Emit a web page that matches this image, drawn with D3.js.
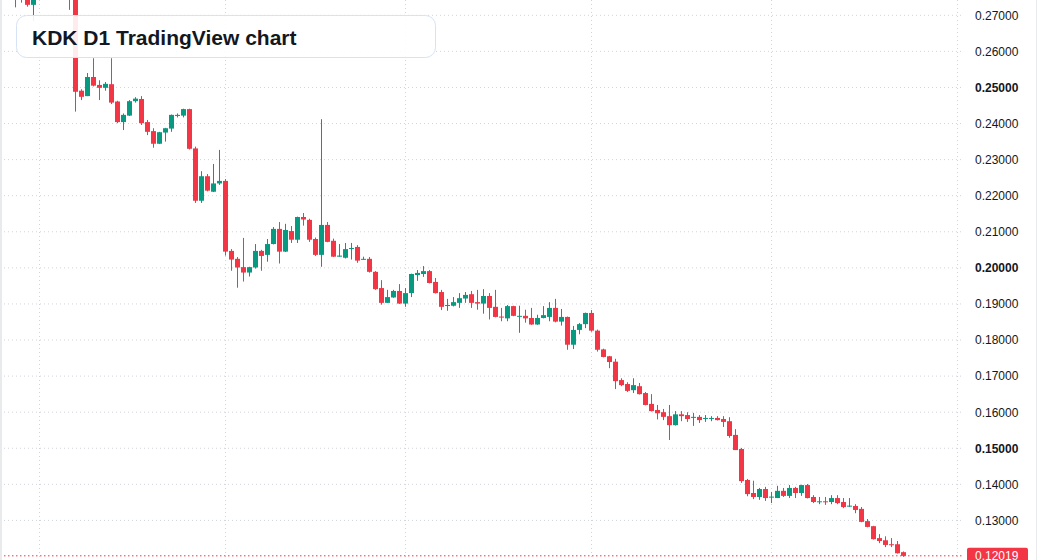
<html>
<head>
  <script src="https://d3js.org/d3.v7.min.js"></script>
  <style>
    body { margin: 0; background: #ffffff; }
    .axis text {
      font-family: "Liberation Sans", Arial, sans-serif;
      font-size: 12px;
      fill: #131722;
    }
    .axis .domain { stroke: none; }
    .gridline { stroke: #d1d4dc; stroke-dasharray: 1,3; }
    .title {
      font-family: "Liberation Sans", Arial, sans-serif;
      font-size: 21px;
      font-weight: bold;
      fill: #131722;
    }
  </style>
</head>
<body>
<svg id="chart" width="1037" height="560"></svg>
<script>
  // daily candles, oldest first (first few sit above the visible range)
  const opens = [0.2790,0.2775,0.2752,0.2729,0.2760,0.2815,0.2850,0.2820,0.2835,0.2790,
    0.2765,0.2491,0.2476,0.2529,0.2507,0.2499,0.2509,0.2461,0.2404,0.2422,
    0.2462,0.2468,0.2404,0.2379,0.2344,0.2375,0.2386,0.2421,0.2422,0.2440,
    0.2331,0.2186,0.2254,0.2211,0.2234,0.2241,0.2047,0.2025,0.2002,0.1987,
    0.2001,0.2047,0.2036,0.2066,0.2108,0.2045,0.2102,0.2078,0.2141,0.2133,
    0.2080,0.2036,0.2119,0.2075,0.2031,0.2028,0.2053,0.2058,0.2023,0.2025,
    0.1989,0.1944,0.1903,0.1918,0.1936,0.1901,0.1930,0.1980,0.1983,0.1991,
    0.1961,0.1933,0.1896,0.1895,0.1903,0.1915,0.1927,0.1905,0.1901,0.1922,
    0.1892,0.1865,0.1860,0.1894,0.1866,0.1867,0.1861,0.1843,0.1861,0.1864,
    0.1889,0.1851,0.1864,0.1787,0.1828,0.1844,0.1875,0.1826,0.1774,0.1755,
    0.1740,0.1689,0.1678,0.1661,0.1672,0.1653,0.1623,0.1606,0.1600,0.1589,
    0.1564,0.1594,0.1592,0.1585,0.1587,0.1583,0.1583,0.1584,0.1581,0.1575,
    0.1537,0.1498,0.1412,0.1376,0.1365,0.1387,0.1364,0.1362,0.1382,0.1368,
    0.1390,0.1376,0.1398,0.1365,0.1352,0.1353,0.1351,0.1362,0.1351,0.1340,
    0.1340,0.1332,0.1298,0.1284,0.1251,0.1245,0.1234,0.1234,0.1212];
  const highs = [0.2800,0.2790,0.2765,0.2775,0.2830,0.2870,0.2880,0.2860,0.2850,0.2810,
    0.2775,0.2495,0.2540,0.2581,0.2520,0.2515,0.2581,0.2463,0.2428,0.2465,
    0.2473,0.2476,0.2410,0.2387,0.2377,0.2388,0.2425,0.2428,0.2441,0.2441,
    0.2336,0.2268,0.2260,0.2288,0.2327,0.2246,0.2052,0.2030,0.2083,0.2003,
    0.2066,0.2050,0.2080,0.2113,0.2127,0.2122,0.2116,0.2142,0.2152,0.2136,
    0.2084,0.2412,0.2127,0.2081,0.2066,0.2069,0.2069,0.2063,0.2031,0.2030,
    0.1991,0.1966,0.1939,0.1939,0.1955,0.1944,0.1984,0.1994,0.2005,0.1994,
    0.1972,0.1939,0.1914,0.1919,0.1930,0.1933,0.1936,0.1939,0.1941,0.1930,
    0.1939,0.1889,0.1897,0.1895,0.1895,0.1884,0.1889,0.1870,0.1894,0.1905,
    0.1914,0.1886,0.1865,0.1839,0.1847,0.1876,0.1883,0.1829,0.1776,0.1756,
    0.1748,0.1694,0.1683,0.1694,0.1681,0.1656,0.1650,0.1620,0.1609,0.1620,
    0.1603,0.1603,0.1600,0.1598,0.1592,0.1592,0.1589,0.1589,0.1589,0.1586,
    0.1553,0.1501,0.1415,0.1410,0.1390,0.1393,0.1379,0.1396,0.1390,0.1398,
    0.1393,0.1399,0.1401,0.1370,0.1365,0.1365,0.1370,0.1370,0.1362,0.1362,
    0.1345,0.1337,0.1304,0.1285,0.1262,0.1256,0.1251,0.1243,0.1214];
  const lows = [0.2722,0.2735,0.2724,0.2684,0.2750,0.2790,0.2800,0.2790,0.2775,0.2715,
    0.2433,0.2465,0.2476,0.2503,0.2465,0.2491,0.2454,0.2401,0.2382,0.2421,
    0.2458,0.2396,0.2368,0.2333,0.2343,0.2350,0.2377,0.2417,0.2417,0.2328,
    0.2180,0.2180,0.2212,0.2210,0.2230,0.2034,0.1992,0.1945,0.1962,0.1976,
    0.1998,0.1992,0.2017,0.2065,0.2012,0.2044,0.2069,0.2069,0.2117,0.2072,
    0.2033,0.2003,0.2071,0.2030,0.2031,0.2026,0.2023,0.2014,0.2023,0.1987,
    0.1939,0.1898,0.1903,0.1917,0.1900,0.1892,0.1919,0.1964,0.1975,0.1957,
    0.1929,0.1883,0.1881,0.1893,0.1889,0.1903,0.1889,0.1884,0.1873,0.1857,
    0.1863,0.1852,0.1852,0.1866,0.1820,0.1848,0.1842,0.1842,0.1860,0.1852,
    0.1849,0.1840,0.1773,0.1775,0.1816,0.1833,0.1823,0.1768,0.1752,0.1722,
    0.1664,0.1672,0.1656,0.1653,0.1649,0.1619,0.1602,0.1580,0.1578,0.1523,
    0.1563,0.1575,0.1573,0.1562,0.1570,0.1573,0.1575,0.1577,0.1559,0.1529,
    0.1495,0.1404,0.1367,0.1359,0.1357,0.1354,0.1348,0.1362,0.1365,0.1362,
    0.1362,0.1368,0.1361,0.1348,0.1345,0.1343,0.1345,0.1345,0.1334,0.1337,
    0.1320,0.1295,0.1281,0.1247,0.1237,0.1226,0.1226,0.1208,0.1199];
  const closes = [0.2760,0.2752,0.2729,0.2760,0.2815,0.2850,0.2820,0.2835,0.2790,0.2765,
    0.2488,0.2474,0.2529,0.2505,0.2499,0.2510,0.2458,0.2404,0.2424,0.2462,
    0.2469,0.2401,0.2377,0.2344,0.2376,0.2387,0.2424,0.2424,0.2440,0.2330,
    0.2186,0.2254,0.2214,0.2234,0.2241,0.2045,0.2023,0.2001,0.1987,0.2002,
    0.2047,0.2033,0.2066,0.2108,0.2045,0.2105,0.2078,0.2141,0.2134,0.2078,
    0.2036,0.2119,0.2072,0.2031,0.2034,0.2052,0.2055,0.2020,0.2025,0.1989,
    0.1941,0.1903,0.1919,0.1936,0.1901,0.1930,0.1983,0.1986,0.1991,0.1958,
    0.1930,0.1892,0.1897,0.1905,0.1916,0.1925,0.1903,0.1901,0.1922,0.1889,
    0.1864,0.1863,0.1894,0.1867,0.1867,0.1860,0.1843,0.1861,0.1869,0.1889,
    0.1851,0.1864,0.1787,0.1828,0.1844,0.1875,0.1826,0.1773,0.1753,0.1739,
    0.1686,0.1675,0.1659,0.1675,0.1650,0.1620,0.1603,0.1597,0.1587,0.1564,
    0.1594,0.1589,0.1581,0.1587,0.1578,0.1584,0.1584,0.1578,0.1573,0.1534,
    0.1495,0.1409,0.1373,0.1365,0.1387,0.1362,0.1366,0.1382,0.1368,0.1390,
    0.1376,0.1398,0.1362,0.1351,0.1353,0.1351,0.1362,0.1348,0.1337,0.1341,
    0.1329,0.1296,0.1282,0.1248,0.1243,0.1232,0.1232,0.1209,0.12019];

  // bar index where each month starts (vertical grid)
  const monthStarts = [4, 35, 65, 96, 126, 157];
  const priceTicks = [0.13,0.14,0.15,0.16,0.17,0.18,0.19,0.20,0.21,0.22,0.23,0.24,0.25,0.26,0.27];
  const boldTicks = [0.15, 0.20, 0.25];
  const titleText = "KDK D1 TradingView chart";

  const svg = d3.select("svg#chart");
  const width = +svg.attr("width");
  const height = +svg.attr("height");
  const plotRight = 957;

  const upColor = "#089981";
  const downColor = "#f23645";

  const x = d3.scaleLinear().domain([0, 157]).range([15.5, 957.5]);
  const y = d3.scaleLinear().domain([0.12, 0.27]).range([556.5, 15.3]);

  const bars = opens.map((o, i) => ({i: i, o: o, h: highs[i], l: lows[i], c: closes[i]}));

  svg.append("rect").attr("width", width).attr("height", height).attr("fill", "#ffffff");

  svg.append("defs").append("clipPath").attr("id", "plotClip")
     .append("rect").attr("x", 0).attr("y", 0).attr("width", plotRight).attr("height", height);

  // grid
  let grid = svg.append("g").attr("class", "grid");
  grid.selectAll("line.h").data(priceTicks).join("line")
      .attr("class", "gridline h")
      .attr("x1", 0).attr("x2", 963)
      .attr("y1", d => y(d)).attr("y2", d => y(d));
  grid.selectAll("line.v").data(monthStarts).join("line")
      .attr("class", "gridline v")
      .attr("x1", d => x(d)).attr("x2", d => x(d))
      .attr("y1", 0).attr("y2", height);

  // candles
  let candles = svg.append("g").attr("clip-path", "url(#plotClip)");
  let bar = candles.selectAll("g.bar").data(bars).join("g").attr("class", "bar");
  bar.append("line")
     .attr("x1", d => x(d.i)).attr("x2", d => x(d.i))
     .attr("y1", d => y(d.h)).attr("y2", d => y(d.l))
     .attr("stroke", d => d.c >= d.o ? upColor : downColor)
     .attr("stroke-width", 1);
  bar.append("rect")
     .attr("x", d => x(d.i) - 2.5)
     .attr("width", 5)
     .attr("y", d => y(Math.max(d.o, d.c)))
     .attr("height", d => Math.max(1, Math.abs(y(d.o) - y(d.c))))
     .attr("fill", d => d.c >= d.o ? upColor : downColor);

  // last price line
  const last = closes[closes.length - 1];
  svg.append("line")
     .attr("x1", 0).attr("x2", 963)
     .attr("y1", y(last)).attr("y2", y(last))
     .attr("stroke", downColor)
     .attr("stroke-dasharray", "1.5,2.5");

  // price axis
  let axis = svg.append("g").attr("class", "axis")
                .attr("transform", "translate(963,0)")
                .call(d3.axisRight(y).tickValues(priceTicks).tickSize(0).tickPadding(12)
                        .tickFormat(d3.format(".5f")));
  axis.selectAll("text")
      .style("font-weight", d => boldTicks.some(b => Math.abs(b - d) < 1e-9) ? "bold" : "normal");

  svg.append("rect")
     .attr("x", 967).attr("y", y(last) - 8)
     .attr("width", 61).attr("height", 16).attr("rx", 2)
     .attr("fill", downColor);
  svg.append("text")
     .attr("x", 975).attr("y", y(last))
     .attr("dominant-baseline", "central")
     .style("font-family", "'Liberation Sans', Arial, sans-serif")
     .style("font-size", "12px")
     .attr("fill", "#ffffff")
     .text(d3.format(".5f")(last));

  // page edges
  svg.append("rect").attr("x", 0).attr("y", 0).attr("width", 2).attr("height", height).attr("fill", "#e9eaec");
  svg.append("rect").attr("x", 1036).attr("y", 0).attr("width", 1).attr("height", height).attr("fill", "#e9eaec");

  // title card
  svg.append("rect")
     .attr("x", 16.5).attr("y", 15.5).attr("width", 419).attr("height", 42).attr("rx", 10)
     .attr("fill", "#ffffff").attr("fill-opacity", 0.9)
     .attr("stroke", "#d6e2f5").attr("stroke-width", 1);
  svg.append("text").attr("class", "title")
     .attr("x", 32).attr("y", 44.5)
     .text(titleText);
</script>
</body>
</html>
